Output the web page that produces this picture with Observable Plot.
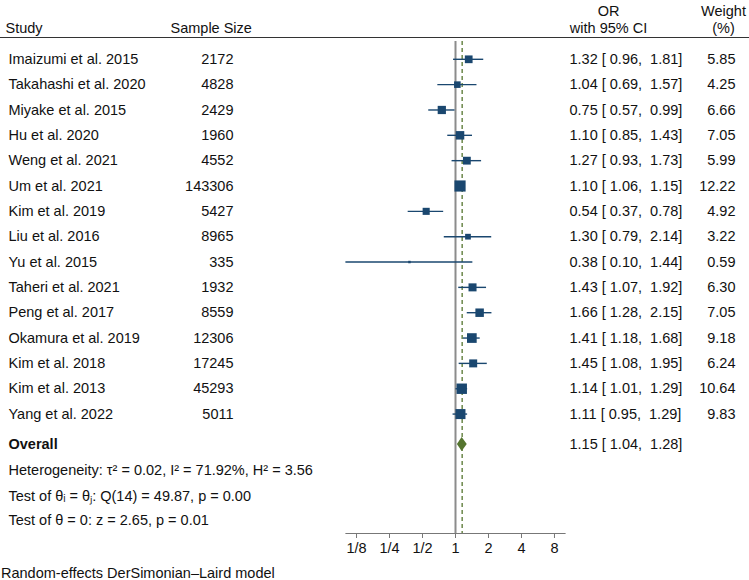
<!DOCTYPE html>
<html><head><meta charset="utf-8">
<script src="https://cdn.jsdelivr.net/npm/d3@7"></script>
<script src="https://cdn.jsdelivr.net/npm/@observablehq/plot@0.6"></script>
<style>
body{margin:0;background:#fff;font-family:"Liberation Sans",Arial,sans-serif;}
#chart svg text{white-space:pre;}
#caption{font-size:14.5px;line-height:18px;color:#111;padding:2px 0 0 1px;white-space:nowrap;}
</style></head><body>
<div id="chart"></div>
<div id="caption"></div>
<script>
// ---- data ----
const studies = ["Imaizumi et al. 2015","Takahashi et al. 2020","Miyake et al. 2015","Hu et al. 2020","Weng et al. 2021","Um et al. 2021","Kim et al. 2019","Liu et al. 2016","Yu et al. 2015","Taheri et al. 2021","Peng et al. 2017","Okamura et al. 2019","Kim et al. 2018","Kim et al. 2013","Yang et al. 2022"];
const sampleSizes = [2172,4828,2429,1960,4552,143306,5427,8965,335,1932,8559,12306,17245,45293,5011];
const oddsRatios = [1.32,1.04,0.75,1.10,1.27,1.10,0.54,1.30,0.38,1.43,1.66,1.41,1.45,1.14,1.11];
const ciLower = [0.96,0.69,0.57,0.85,0.93,1.06,0.37,0.79,0.10,1.07,1.28,1.18,1.08,1.01,0.95];
const ciUpper = [1.81,1.57,0.99,1.43,1.73,1.15,0.78,2.14,1.44,1.92,2.15,1.68,1.95,1.29,1.29];
const weights = [5.85,4.25,6.66,7.05,5.99,12.22,4.92,3.22,0.59,6.30,7.05,9.18,6.24,10.64,9.83];
const overallLabel = "Overall";
const overallOR = 1.15, overallLo = 1.04, overallHi = 1.28;
const statLines = ["Heterogeneity: \u03c4\u00b2 = 0.02, I\u00b2 = 71.92%, H\u00b2 = 3.56",
                   "Test of \u03b8\u1d62 = \u03b8\u2c7c: Q(14) = 49.87, p = 0.00",
                   "Test of \u03b8 = 0: z = 2.65, p = 0.01"];
const headerStudy = "Study", headerSize = "Sample Size";
const headerOR = ["OR", "with 95% CI"], headerWeight = ["Weight", "(%)"];
const xTicks = [1/8, 1/4, 1/2, 1, 2, 4, 8];
const xTickLabels = ["1/8","1/4","1/2","1","2","4","8"];
const xDomain = [0.1, 10];
const captionText = "Random-effects DerSimonian\u2013Laird model";

// ---- layout / style ----
const W = 749, H = 562, ML = 345.4, MR = 749 - 564.6, MT = 41, MB = H - 533;
const FS = 14.5;
const navy = "#1a476f", green = "#55752f", ink = "#111";
const colStudy = 8, colHeadStudy = 5, colSize = 233, colHeadSize = 170, colOR = 569, colHeadOR = 608, colW = 735, colHeadW = 723;
const overallRow = 15.2, statRows = [16.24, 17.23, 18.18];
const headRow1 = -1.89, headRow2 = -1.22, headRuleRow = -0.86;
const diamondHalf = 0.276;

const rows = studies.map((s, i) => ({i, study: s, n: sampleSizes[i], or: oddsRatios[i], lo: ciLower[i], hi: ciUpper[i], w: weights[i]}));
const f2 = d3.format(".2f");
const ciText = (o, l, h) => `${f2(o)} [ ${f2(l)},  ${f2(h)}]`;
const diamond = [
  {y: overallRow - diamondHalf, x1: overallOR, x2: overallOR},
  {y: overallRow, x1: overallLo, x2: overallHi},
  {y: overallRow + diamondHalf, x1: overallOR, x2: overallOR}
];
const tickLabel = new Map(xTicks.map((t, i) => [t, xTickLabels[i]]));
const txt = (data, opts) => Plot.text(data, {frameAnchor: "left", fontSize: FS, fill: ink, ...opts});

const plot = Plot.plot({
  width: W, height: H, marginLeft: ML, marginRight: MR, marginTop: MT, marginBottom: MB,
  style: {fontFamily: "'Liberation Sans', Arial, sans-serif", fontSize: FS + "px", color: ink, background: "#fff", overflow: "visible"},
  x: {type: "log", base: 2, domain: xDomain, axis: null},
  y: {domain: [-0.7025, 18.713], reverse: true, axis: null},
  r: {domain: [0, d3.max(weights)], range: [0, 6.3]},
  marks: [
    (index, scales, values, dims) => {
      const y = Math.round(scales.y(headRuleRow)) + 0.5;
      return d3.create("svg:line").attr("x1", 0).attr("x2", dims.width).attr("y1", y).attr("y2", y)
        .attr("stroke", "#333").attr("stroke-width", 1).node();
    },
    Plot.ruleX([1], {stroke: "#8c8c8c", strokeWidth: 2}),
    Plot.ruleX([overallOR], {stroke: green, strokeWidth: 1.3, strokeDasharray: "4,3"}),
    Plot.frame({anchor: "bottom", stroke: "#777"}),
    Plot.axisX({ticks: xTicks, tickFormat: d => tickLabel.get(d), tickSize: 5, tickPadding: 4, stroke: "#777", fill: ink, fontSize: FS, label: null}),
    Plot.ruleY(rows, {y: "i", x1: "lo", x2: "hi", stroke: navy, strokeWidth: 1.4}),
    Plot.dot(rows, {x: "or", y: "i", r: "w", symbol: "square", fill: navy, stroke: null}),
    Plot.areaX(diamond, {y: "y", x1: "x1", x2: "x2", fill: green}),
    // table text
    txt(rows, {y: "i", text: "study", textAnchor: "start", dx: colStudy - ML}),
    txt(rows, {y: "i", text: d => String(d.n), textAnchor: "end", dx: colSize - ML}),
    txt(rows, {y: "i", text: d => ciText(d.or, d.lo, d.hi), textAnchor: "start", dx: colOR - ML}),
    txt(rows, {y: "i", text: d => f2(d.w), textAnchor: "end", dx: colW - ML}),
    txt([overallLabel], {y: () => overallRow, text: d => d, textAnchor: "start", dx: colStudy - ML, fontWeight: "bold"}),
    txt([ciText(overallOR, overallLo, overallHi)], {y: () => overallRow, text: d => d, textAnchor: "start", dx: colOR - ML}),
    txt(statLines, {y: (d, i) => statRows[i], text: d => d, textAnchor: "start", dx: colStudy - ML}),
    // headers
    txt([headerStudy], {y: () => headRow2, text: d => d, textAnchor: "start", dx: colHeadStudy - ML}),
    txt([headerSize], {y: () => headRow2, text: d => d, textAnchor: "start", dx: colHeadSize - ML}),
    txt(headerOR, {y: (d, i) => i === 0 ? headRow1 : headRow2, text: d => d, textAnchor: "middle", dx: colHeadOR - ML}),
    txt(headerWeight, {y: (d, i) => i === 0 ? headRow1 : headRow2, text: d => d, textAnchor: "middle", dx: colHeadW - ML})
  ]
});
document.getElementById("chart").appendChild(plot);
document.getElementById("caption").textContent = captionText;
</script>
</body></html>
